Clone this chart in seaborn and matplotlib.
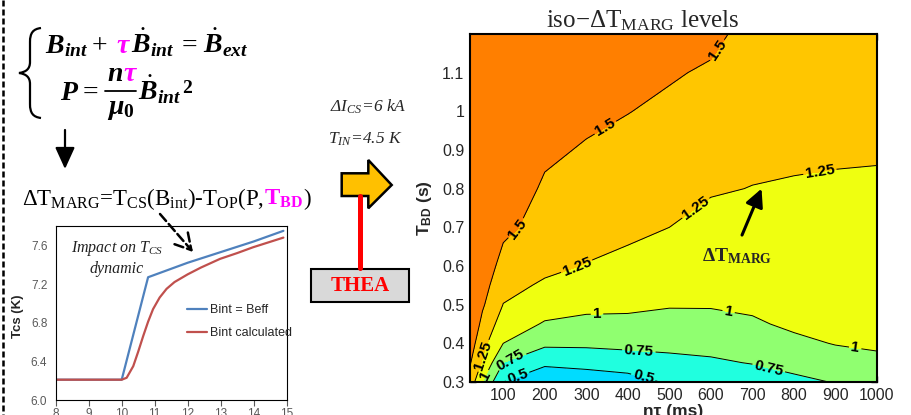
import numpy as np
import pandas as pd
import seaborn as sns
import matplotlib.pyplot as plt
from matplotlib.transforms import Affine2D
from matplotlib.patches import Polygon, Rectangle, FancyArrowPatch, PathPatch
from matplotlib.path import Path
from matplotlib.lines import Line2D
from matplotlib.ticker import FuncFormatter

# inset: T_CS evolution (time in s)
t_beff = [8, 10, 10.8, 12, 13, 14, 14.9]
tcs_beff = [6.21, 6.21, 7.27, 7.42, 7.53, 7.64, 7.75]
t_bcalc = [8, 10, 10.15, 10.35, 10.5, 10.65, 10.8, 10.95, 11.15, 11.36, 11.6,
           12.0, 12.4, 12.98, 13.5, 13.98, 14.9]
tcs_bcalc = [6.21, 6.21, 6.23, 6.35, 6.5, 6.66, 6.81, 6.94, 7.06, 7.15, 7.22,
             7.30, 7.37, 7.46, 7.52, 7.58, 7.68]
series_names = ['Bint = Beff', 'Bint calculated']

# iso-dT_MARG map: columns = n*tau (ms), rows = T_BD (s)
n_tau = [20, 50, 100, 200, 300, 400, 500, 600, 700, 800, 900, 1000]
t_bd = [0.3, 0.35, 0.4, 0.45, 0.5, 0.55, 0.6, 0.7, 0.8, 0.9, 1.0, 1.1, 1.2]
dt_marg = [
    [1.40, 1.00, 0.50, 0.30, 0.35, 0.40, 0.53, 0.58, 0.63, 0.70, 0.76, 0.78],
    [1.52, 1.22, 0.75, 0.55, 0.58, 0.62, 0.69, 0.72, 0.76, 0.82, 0.90, 0.97],
    [1.62, 1.33, 1.00, 0.80, 0.80, 0.82, 0.81, 0.82, 0.87, 0.95, 1.01, 1.02],
    [1.70, 1.44, 1.13, 0.98, 0.95, 0.94, 0.91, 0.92, 0.97, 1.04, 1.05, 1.05],
    [1.76, 1.53, 1.245, 1.10, 1.05, 1.05, 1.02, 1.02, 1.04, 1.07, 1.07, 1.07],
    [1.81, 1.60, 1.32, 1.22, 1.14, 1.10, 1.08, 1.07, 1.08, 1.10, 1.09, 1.09],
    [1.86, 1.66, 1.41, 1.30, 1.24, 1.18, 1.13, 1.11, 1.11, 1.12, 1.11, 1.11],
    [1.94, 1.75, 1.56, 1.40, 1.35, 1.31, 1.25, 1.18, 1.17, 1.17, 1.16, 1.16],
    [2.00, 1.82, 1.64, 1.47, 1.42, 1.37, 1.33, 1.27, 1.245, 1.23, 1.22, 1.22],
    [2.05, 1.88, 1.70, 1.54, 1.48, 1.44, 1.40, 1.33, 1.30, 1.29, 1.28, 1.27],
    [2.10, 1.93, 1.75, 1.60, 1.55, 1.505, 1.46, 1.41, 1.35, 1.34, 1.33, 1.32],
    [2.14, 1.97, 1.80, 1.65, 1.60, 1.56, 1.52, 1.475, 1.39, 1.38, 1.37, 1.36],
    [2.18, 2.01, 1.85, 1.70, 1.65, 1.61, 1.57, 1.55, 1.43, 1.42, 1.41, 1.40],
]
line_levels = [0.5, 0.75, 1.0, 1.25, 1.5]
fill_levels = [0.0, 0.5, 0.75, 1.0, 1.25, 1.5, 3.0]
fill_colors = ['#00DCFF', '#20FFDF', '#90FF70', '#EFFF10', '#FFC600', '#FF7F00']

sns.set_style('ticks')
plt.rcParams['font.family'] = ['Liberation Sans', 'DejaVu Sans']
plt.rcParams['mathtext.fontset'] = 'custom'
plt.rcParams['mathtext.rm'] = 'Liberation Serif'
plt.rcParams['mathtext.it'] = 'Liberation Serif:italic'
plt.rcParams['mathtext.bf'] = 'Liberation Serif:bold'
plt.rcParams['mathtext.sf'] = 'Liberation Sans:bold'
if 'mathtext.bfit' in plt.rcParams:
    plt.rcParams['mathtext.bfit'] = 'Liberation Serif:bold:italic'

W, H = 911, 415
fig = plt.figure(figsize=(W / 100, H / 100), dpi=100)
fig.patch.set_facecolor('white')
# pixel coordinates, origin top-left
pxt = Affine2D().scale(1 / W, -1 / H).translate(0, 1) + fig.transFigure
rend = fig.canvas.get_renderer()
SERIF = 'Liberation Serif'


def chain(parts, x, y, size, **kw):
    # parts: (text, colour, gap in px before it)
    for s, c, gap in parts:
        t = fig.text(x + gap, y, s, transform=pxt, color=c, fontsize=size,
                     ha='left', va='baseline', family=SERIF, **kw)
        x = t.get_window_extent(rend).x1
    return x


# ---------------- left: model equations ----------------
fig.add_artist(Line2D([3, 3], [0, H], transform=pxt, color='k', lw=1.8,
                      ls=(0, (2.4, 1.2))))

brace = Path([(41, 28), (33, 29), (30, 33), (30, 42), (30, 62),
              (30, 69), (26, 72), (19, 73), (26, 74), (30, 77), (30, 84),
              (30, 104), (30, 113), (33, 117), (41, 118)],
             [Path.MOVETO, Path.CURVE4, Path.CURVE4, Path.CURVE4, Path.LINETO,
              Path.CURVE4, Path.CURVE4, Path.CURVE4, Path.CURVE4, Path.CURVE4,
              Path.CURVE4, Path.LINETO, Path.CURVE4, Path.CURVE4, Path.CURVE4])
fig.add_artist(PathPatch(brace, transform=pxt, fc='none', ec='k', lw=1.6))

eq = 20
chain([(r'$\mathbfit{B}_{\mathbfit{int}}$', 'k', 0),
       ('+', 'k', 4),
       (r'$\mathbfit{\tau}$', 'magenta', 8),
       (r'$\dot{\mathbfit{B}}_{\mathbfit{int}}$', 'k', 0),
       ('=', 'k', 8),
       (r'$\dot{\mathbfit{B}}_{\mathbfit{ext}}$', 'k', 6)],
      45, 53, eq)
chain([(r'$\mathbfit{P}$', 'k', 0), ('=', 'k', 3)], 60, 100, eq)
chain([(r'$\mathbfit{n}$', 'k', 0), (r'$\mathbfit{\tau}$', 'magenta', 0)], 107, 81, eq)
fig.add_artist(Line2D([105, 136], [91, 91], transform=pxt, color='k', lw=1.3))
chain([(r'$\mathbfit{\mu}_{\mathbf{0}}$', 'k', 0)], 107, 114, eq)
chain([(r'$\dot{\mathbfit{B}}_{\mathbfit{int}}$', 'k', 0), (r'$^{\mathbf{2}}$', 'k', 1)],
      138, 100, eq)

fig.add_artist(FancyArrowPatch((65, 130), (65, 169), transform=pxt,
                               arrowstyle='-|>,head_length=0.55,head_width=0.25',
                               mutation_scale=24, color='k', lw=1.6,
                               shrinkA=0, shrinkB=0))

chain([(r'ΔT$_{\mathrm{MARG}}$=T$_{\mathrm{CS}}$(B$_{\mathrm{int}}$)-T$_{\mathrm{OP}}$(P,', 'k', 0),
       (r'$\mathbf{T_{BD}}$', 'magenta', 0), (')', 'k', 0)], 22, 205, 16.5)

# ---------------- inset: T_CS(t) ----------------
axi = fig.add_axes([55.7 / W, 15 / H, 231 / W, 174 / H])
inset_df = pd.concat([
    pd.DataFrame({'t': t_beff, 'tcs': tcs_beff, 'case': series_names[0]}),
    pd.DataFrame({'t': t_bcalc, 'tcs': tcs_bcalc, 'case': series_names[1]}),
])
sns.lineplot(data=inset_df, x='t', y='tcs', hue='case', sort=False,
             palette=['#4F81BD', '#C0504D'], lw=1.6, ax=axi)
axi.set_xlim(8, 15)
axi.set_ylim(6.0, 7.8)
axi.set_xticks(range(8, 16))
axi.set_yticks([6.0, 6.4, 6.8, 7.2, 7.6])
axi.yaxis.set_major_formatter(FuncFormatter(lambda v, p: f'{v:.1f}'))
axi.set_xlabel('')
axi.set_ylabel('')
axi.tick_params(axis='y', length=0, labelsize=8.5, labelcolor='#595959', pad=6)
axi.tick_params(axis='x', length=4, direction='out', labelsize=8.5,
                labelcolor='#595959', color='#595959', pad=2)
for sp in axi.spines.values():
    sp.set_visible(True)
    sp.set_color('k')
    sp.set_linewidth(0.8)
axi.legend(frameon=False, loc='center left', bbox_to_anchor=(0.52, 0.45),
           fontsize=9, handlelength=1.6, labelspacing=0.9, handletextpad=0.2)
fig.text(18, 316, 'Tcs (K)', transform=pxt, rotation=90, ha='center', va='center',
         fontsize=9.5, fontweight='bold')

fig.text(117, 258, 'Impact on $T_{CS}$\ndynamic', transform=pxt, ha='center',
         va='center', fontsize=11.5, fontstyle='italic', family=SERIF,
         linespacing=1.25, color='#222222')
fig.add_artist(FancyArrowPatch((160, 214), (193, 252), transform=pxt,
                               arrowstyle='->,head_length=0.7,head_width=0.4',
                               mutation_scale=16, color='k', lw=1.8, ls='--',
                               shrinkA=0, shrinkB=0))

# ---------------- middle: THEA block ----------------
fig.text(368, 107, 'ΔI$_{CS}$=6 kA', transform=pxt, ha='center', va='center',
         fontsize=12.5, fontstyle='italic', family=SERIF)
fig.text(365, 139, 'T$_{IN}$=4.5 K', transform=pxt, ha='center', va='center',
         fontsize=12.5, fontstyle='italic', family=SERIF)
fig.add_artist(Line2D([360, 360], [196, 268], transform=pxt, color='red', lw=3.6))
fig.add_artist(Polygon([(341.7, 173.3), (368.3, 173.3), (368.3, 160), (391.7, 185),
                        (368.3, 208.3), (368.3, 196), (341.7, 196)],
                       closed=True, transform=pxt, fc='#FFC000', ec='k', lw=1.8))
fig.add_artist(Rectangle((311, 269), 98, 33, transform=pxt, fc='#D9D9D9',
                         ec='k', lw=1.5))
fig.text(360, 286, 'THEA', transform=pxt, ha='center', va='center', fontsize=15,
         fontweight='bold', color='red', family=SERIF)

# ---------------- right: iso-dT_MARG map ----------------
ax = fig.add_axes([470 / W, 33 / H, 407 / W, 348 / H])
Z = np.array(dt_marg)
ax.contourf(n_tau, t_bd, Z, levels=fill_levels, colors=fill_colors)
cs = ax.contour(n_tau, t_bd, Z, levels=line_levels, colors='k', linewidths=0.7)
label_pos = [(606, 1.165), (346, 0.958), (130, 0.70),
             (863, 0.84), (560, 0.755), (280, 0.59), (57, 0.366),
             (326, 0.468), (642, 0.478), (947, 0.384), (61, 0.315),
             (121, 0.348), (426, 0.372), (738, 0.33),
             (134, 0.315), (438, 0.315)]
labels = ax.clabel(cs, manual=label_pos, fmt=lambda v: f'{v:g}', fontsize=11,
                   inline=True, inline_spacing=2)
for t in labels:
    t.set_fontweight('bold')
ax.set_xlim(20, 1000)
ax.set_ylim(0.3, 1.2)
ax.set_xticks(range(100, 1001, 100))
ax.set_yticks([0.3, 0.4, 0.5, 0.6, 0.7, 0.8, 0.9, 1.0, 1.1])
ax.yaxis.set_major_formatter(FuncFormatter(lambda v, p: f'{v:g}'))
ax.tick_params(direction='in', top=True, right=True, length=4, width=1,
               labelsize=11.5, pad=4)
for sp in ax.spines.values():
    sp.set_linewidth(1.5)
    sp.set_color('k')
ax.set_xlabel('nτ (ms)', fontsize=12.5, fontweight='bold', labelpad=1)
ax.set_ylabel(r'T$_{\mathsf{BD}}$ (s)', fontsize=12.5, fontweight='bold', labelpad=6)
fig.text(643, 27, r'iso−ΔT$_{\mathrm{MARG}}$ levels', transform=pxt, ha='center',
         va='baseline', fontsize=18, family=SERIF)

ax.annotate('', xy=(722, 0.80), xytext=(675, 0.68),
            arrowprops=dict(arrowstyle='-|>,head_length=0.6,head_width=0.3',
                            mutation_scale=18, color='k', lw=2.2,
                            shrinkA=0, shrinkB=0))
ax.text(663, 0.625, r'$\mathbf{\Delta T_{MARG}}$', ha='center', va='center',
        fontsize=14)

fig.savefig('out.png', dpi=100)
